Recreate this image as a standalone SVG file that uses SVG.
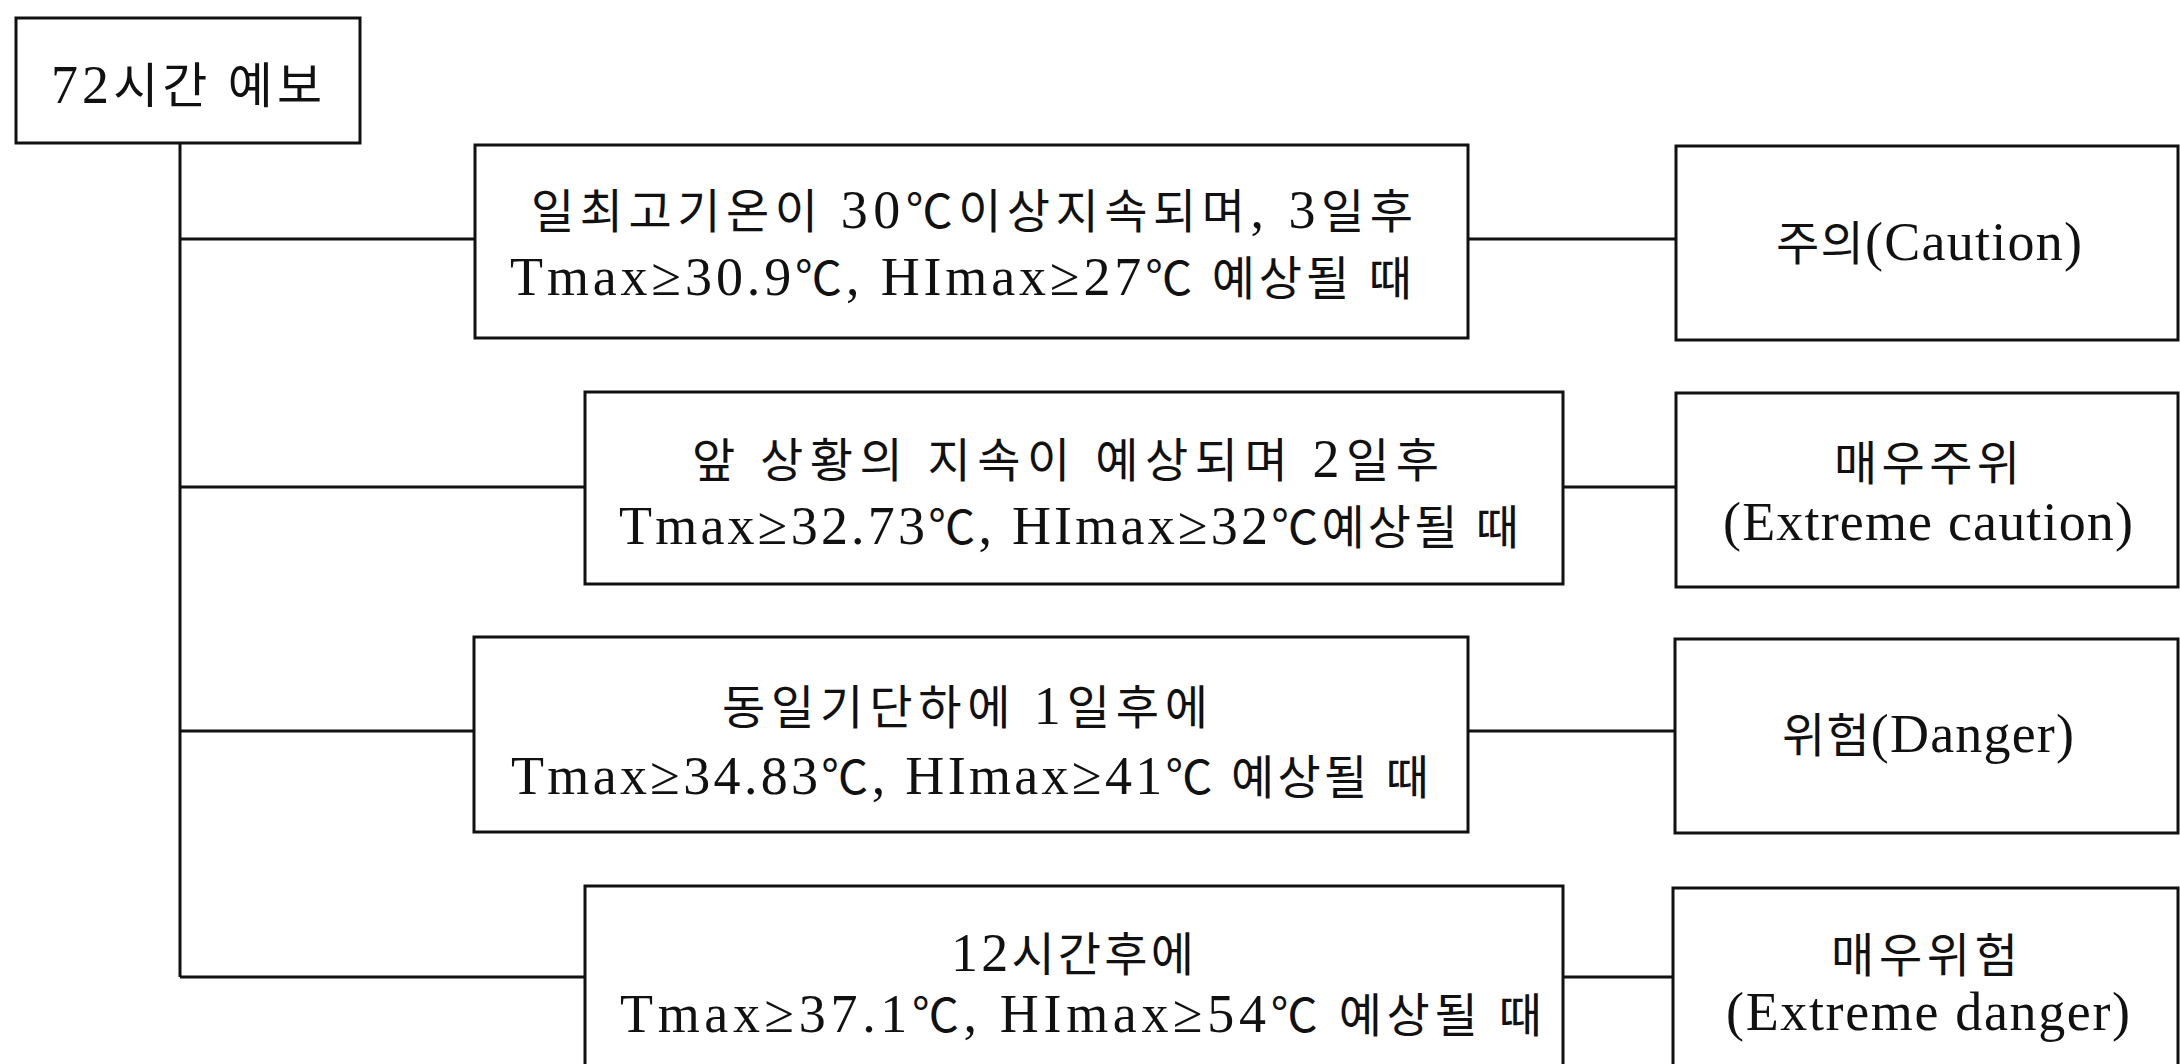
<svg xmlns="http://www.w3.org/2000/svg" width="2180" height="1064" viewBox="0 0 2180 1064">
<style>
.box{fill:#fff;stroke:#111;stroke-width:3}
.con{fill:none;stroke:#111;stroke-width:3}
text{font-family:"Liberation Serif","Noto Sans CJK KR",serif;font-size:47px;fill:#111}
.l{font-size:54px}
.root{font-size:49px}
</style>
<rect width="2180" height="1064" fill="#fff"/>
<g id="connectors">
<path class="con" d="M180 143V977M180 239H475M180 487H585M180 731H474M180 977H585"/>
<path class="con" d="M1468 239H1676M1563 487H1676M1468 731H1675M1563 977H1673"/>
</g>
<g id="root">
<rect class="box" x="16" y="18" width="344" height="125"/>
<text class="root" x="51" y="103" textLength="271"><tspan class="l">72</tspan>시간 예보</text>
</g>
<g id="cond1">
<rect class="box" x="475" y="145" width="993" height="193"/>
<text x="531" y="228" textLength="882">일최고기온이 <tspan class="l">30</tspan>℃이상지속되며<tspan class="l">, 3</tspan>일후</text>
<text x="510" y="295" textLength="902"><tspan class="l">Tmax≥30.9</tspan>℃<tspan class="l">, HImax≥27</tspan>℃ 예상될 때</text>
</g>
<g id="cond2">
<rect class="box" x="585" y="392" width="978" height="192"/>
<text x="692" y="477" textLength="747">앞 상황의 지속이 예상되며 <tspan class="l">2</tspan>일후</text>
<text x="619" y="544" textLength="900"><tspan class="l">Tmax≥32.73</tspan>℃<tspan class="l">, HImax≥32</tspan>℃예상될 때</text>
</g>
<g id="cond3">
<rect class="box" x="474" y="637" width="994" height="195"/>
<text x="722" y="724" textLength="486">동일기단하에 <tspan class="l">1</tspan>일후에</text>
<text x="511" y="794" textLength="918"><tspan class="l">Tmax≥34.83</tspan>℃<tspan class="l">, HImax≥41</tspan>℃ 예상될 때</text>
</g>
<g id="cond4">
<rect class="box" x="585" y="886" width="978" height="200"/>
<text x="951" y="971" textLength="243"><tspan class="l">12</tspan>시간후에</text>
<text x="620" y="1032" textLength="922"><tspan class="l">Tmax≥37.1</tspan>℃<tspan class="l">, HImax≥54</tspan>℃ 예상될 때</text>
</g>
<g id="level1">
<rect class="box" x="1676" y="146" width="502" height="194"/>
<text x="1776" y="260" textLength="306">주의<tspan class="l">(Caution)</tspan></text>
</g>
<g id="level2">
<rect class="box" x="1676" y="393" width="502" height="194"/>
<text x="1834" y="480" textLength="186">매우주위</text>
<text class="l" x="1723" y="540" textLength="410">(Extreme caution)</text>
</g>
<g id="level3">
<rect class="box" x="1675" y="639" width="503" height="194"/>
<text x="1782" y="752" textLength="292">위험<tspan class="l">(Danger)</tspan></text>
</g>
<g id="level4">
<rect class="box" x="1673" y="888" width="505" height="200"/>
<text x="1831" y="972" textLength="187">매우위험</text>
<text class="l" x="1726" y="1030" textLength="404">(Extreme danger)</text>
</g>
</svg>
